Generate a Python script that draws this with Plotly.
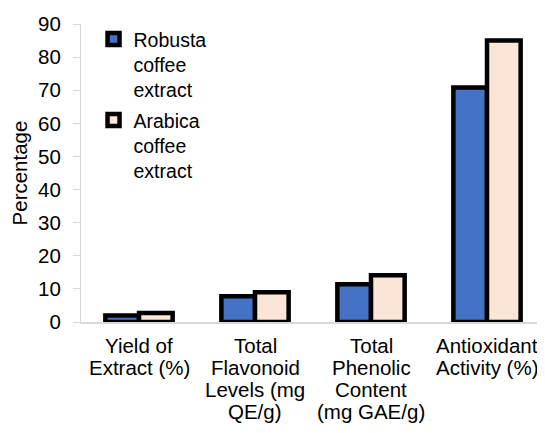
import plotly.graph_objects as go

categories = ["Yield of Extract (%)", "Total Flavonoid Levels (mg QE/g)",
              "Total Phenolic Content (mg GAE/g)", "Antioxidant Activity (%)"]
category_label_lines = [
    ["Yield of", "Extract (%)"],
    ["Total", "Flavonoid", "Levels (mg", "QE/g)"],
    ["Total", "Phenolic", "Content", "(mg GAE/g)"],
    ["Antioxidant", "Activity (%)"],
]
robusta = [2.0, 7.8, 11.4, 70.8]
arabica = [2.7, 9.0, 14.1, 85.0]
series_names = ["Robusta<br>coffee<br>extract", "Arabica<br>coffee<br>extract"]
y_ticks = [0, 10, 20, 30, 40, 50, 60, 70, 80, 90]

font = "Liberation Sans"

fig = go.Figure()
fig.add_trace(go.Bar(x=categories, y=robusta, name=series_names[0], legendgroup="r",
                     marker=dict(color="#4472C4", line=dict(color="black", width=4.5))))
fig.add_trace(go.Bar(x=categories, y=arabica, name=series_names[1], legendgroup="a",
                     marker=dict(color="#FBE5D6", line=dict(color="black", width=4.5))))

# multi-line category labels with Excel-like tight line spacing
for cat, lines in zip(categories, category_label_lines):
    for i, line in enumerate(lines):
        fig.add_annotation(x=cat, xref="x", y=0, yref="paper", yanchor="middle",
                           yshift=-(23 + i * 22), text=line, showarrow=False,
                           font=dict(family=font, size=20.5, color="black"))

# page body has an 8px margin, so the figure is sized to fit the 545x433 window
fig.update_layout(
    width=537, height=425,
    margin=dict(l=73, r=0, t=16, b=111),
    paper_bgcolor="white", plot_bgcolor="white",
    barmode="group", bargap=0.42, bargroupgap=0,
    font=dict(family=font, size=20, color="black"),
    showlegend=True,
    legend=dict(x=0.027, y=1.014, xanchor="left", yanchor="top", valign="top",
                bgcolor="rgba(0,0,0,0)", font=dict(size=19.5), tracegroupgap=2,
                itemwidth=30),
    xaxis=dict(showline=True, linecolor="#d9d9d9", linewidth=1.5, ticks="",
               showticklabels=False, automargin=False),
    yaxis=dict(range=[0, 90], tickvals=y_ticks, showgrid=False, zeroline=False,
               showline=True, linecolor="#d9d9d9", linewidth=1, ticks="outside",
               tickcolor="#d9d9d9", ticklen=7, tickfont=dict(size=20.5),
               ticklabelstandoff=8,
               title=dict(text="Percentage", font=dict(size=20.5), standoff=8),
               automargin=False),
)
fig.write_html("out.html")
